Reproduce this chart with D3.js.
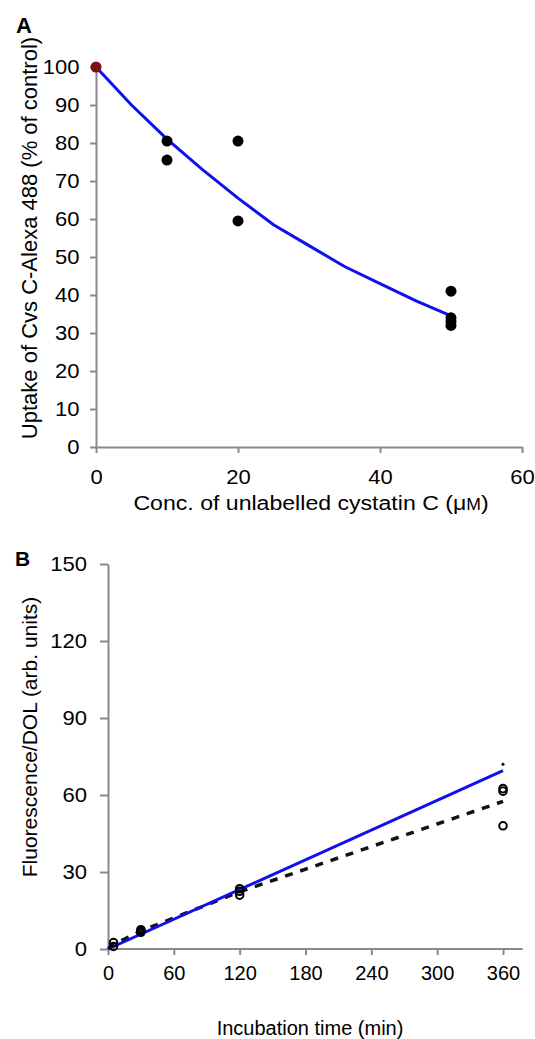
<!DOCTYPE html>
<html>
<head>
<meta charset="utf-8">
<script src="https://cdn.jsdelivr.net/npm/d3@7"></script>
<style>
  body { margin: 0; background: #fff; }
  svg text { font-family: "Liberation Sans", Arial, sans-serif; fill: #000; }
</style>
</head>
<body>
<svg id="chart" width="535" height="1039"></svg>
<script>
// Panel A: uptake vs competitor concentration
const concX = [0, 10, 10, 20, 20, 50, 50, 50, 50];
const uptakeY = [100, 80.5, 75.5, 80.5, 59.5, 41, 34, 33, 32];
const fitConc = [0, 5, 10, 15, 20, 25, 30, 35, 40, 45, 50];
const fitUptake = [100, 90, 81, 73, 65.5, 58.5, 53, 47.5, 43, 38.5, 34.5];
const ticksA_x = [0, 20, 40, 60];
const ticksA_y = [0, 10, 20, 30, 40, 50, 60, 70, 80, 90, 100];

// Panel B: fluorescence over time
const timeX = [5, 5, 30, 30, 30, 120, 120, 120, 360, 360, 360];
const fluorY = [1, 2.5, 6.5, 7.5, 7, 21, 22.5, 23.5, 61.5, 62.5, 48];
const meanTime = [0, 5, 30, 120, 360];
const meanFluor = [0, 1.8, 7, 22.3, 57.5];
const fitTime = [0, 360];
const fitFluor = [0, 69.5];
const extraTime = [360];
const extraFluor = [72];
const ticksB_x = [0, 60, 120, 180, 240, 300, 360];
const ticksB_y = [0, 30, 60, 90, 120, 150];

const svg = d3.select('#chart');
const axisColor = '#8a8a8a';

function styleAxis(g, size, stretch) {
    g.select('.domain').attr('stroke', axisColor).attr('stroke-width', 2);
    g.selectAll('.tick line').attr('stroke', axisColor).attr('stroke-width', 2);
    g.selectAll('.tick text').style('font-size', size + 'px')
        .style('font-family', '"Liberation Sans", Arial, sans-serif')
        .attr('transform', `scale(${stretch},1)`);
}

// ---------- Panel A ----------
const xA = d3.scaleLinear().domain([0, 60]).range([96, 522]);
const yA = d3.scaleLinear().domain([0, 100]).range([447, 67]);

const axA_x = svg.append('g')
    .attr('transform', `translate(0,${yA(0)})`)
    .call(d3.axisBottom(xA).tickValues(ticksA_x).tickSize(6).tickSizeOuter(0).tickPadding(17));
styleAxis(axA_x, 20, 1.1);

const axA_y = svg.append('g')
    .attr('transform', `translate(${xA(0)},0)`)
    .call(d3.axisLeft(yA).tickValues(ticksA_y).tickSize(6).tickSizeOuter(0).tickPadding(9));
styleAxis(axA_y, 20, 1.1);

svg.append('path')
    .datum(fitConc.map((c, i) => [c, fitUptake[i]]))
    .attr('fill', 'none')
    .attr('stroke', '#1010ee')
    .attr('stroke-width', 3)
    .attr('d', d3.line().x(d => xA(d[0])).y(d => yA(d[1])));

svg.selectAll('.dotA')
    .data(concX.map((c, i) => ({ c, v: uptakeY[i], i })))
    .enter().append('circle')
    .attr('cx', d => xA(d.c))
    .attr('cy', d => yA(d.v))
    .attr('r', 5.5)
    .attr('fill', d => d.i === 0 ? '#7a1010' : '#000');

svg.append('text')
    .attr('x', 16).attr('y', 33)
    .style('font-size', '22px').style('font-weight', 'bold')
    .text('A');

svg.append('text')
    .attr('transform', `translate(37,238) rotate(-90)`)
    .attr('text-anchor', 'middle')
    .style('font-size', '22px')
    .text('Uptake of Cvs C-Alexa 488 (% of control)');

const labA = svg.append('text')
    .attr('transform', 'translate(311,510) scale(1.1,1)')
    .attr('text-anchor', 'middle')
    .style('font-size', '21px')
    .text('Conc. of unlabelled cystatin C (μ');
labA.append('tspan').style('font-size', '16px').text('M');
labA.append('tspan').text(')');

// ---------- Panel B ----------
const xB = d3.scaleLinear().domain([0, 360]).range([108, 503]);
const yB = d3.scaleLinear().domain([0, 150]).range([949, 564]);

const axB_x = svg.append('g')
    .attr('transform', `translate(0,${yB(0)})`)
    .call(d3.axisBottom(xB).tickValues(ticksB_x).tickSize(6).tickSizeOuter(0).tickPadding(11));
styleAxis(axB_x, 20, 1);
axB_x.select('.domain').attr('d', `M${xB(0)},0H${xB(378)}`);

const axB_y = svg.append('g')
    .attr('transform', `translate(${xB(0)},0)`)
    .call(d3.axisLeft(yB).tickValues(ticksB_y).tickSize(8).tickSizeOuter(0).tickPadding(12));
styleAxis(axB_y, 21, 1.05);

svg.append('path')
    .datum(meanTime.map((t, i) => [t, meanFluor[i]]))
    .attr('fill', 'none')
    .attr('stroke', '#111')
    .attr('stroke-width', 3.5)
    .attr('stroke-dasharray', '8,8')
    .attr('d', d3.line().x(d => xB(d[0])).y(d => yB(d[1])));

svg.append('path')
    .datum(fitTime.map((t, i) => [t, fitFluor[i]]))
    .attr('fill', 'none')
    .attr('stroke', '#1010ee')
    .attr('stroke-width', 3)
    .attr('d', d3.line().x(d => xB(d[0])).y(d => yB(d[1])));

svg.selectAll('.dotB')
    .data(timeX.map((t, i) => ({ t, v: fluorY[i] })))
    .enter().append('circle')
    .attr('cx', d => xB(d.t))
    .attr('cy', d => yB(d.v))
    .attr('r', 3.8)
    .attr('fill', 'none')
    .attr('stroke', '#000')
    .attr('stroke-width', 2);

svg.selectAll('.extraB')
    .data(extraTime.map((t, i) => ({ t, v: extraFluor[i] })))
    .enter().append('circle')
    .attr('cx', d => xB(d.t))
    .attr('cy', d => yB(d.v))
    .attr('r', 1.5)
    .attr('fill', '#000');

svg.append('text')
    .attr('x', 15).attr('y', 566)
    .style('font-size', '21px').style('font-weight', 'bold')
    .text('B');

svg.append('text')
    .attr('transform', `translate(37,737) rotate(-90)`)
    .attr('text-anchor', 'middle')
    .style('font-size', '21px')
    .text('Fluorescence/DOL (arb. units)');

svg.append('text')
    .attr('x', 310).attr('y', 1035)
    .attr('text-anchor', 'middle')
    .style('font-size', '20px')
    .text('Incubation time (min)');
</script>
</body>
</html>
